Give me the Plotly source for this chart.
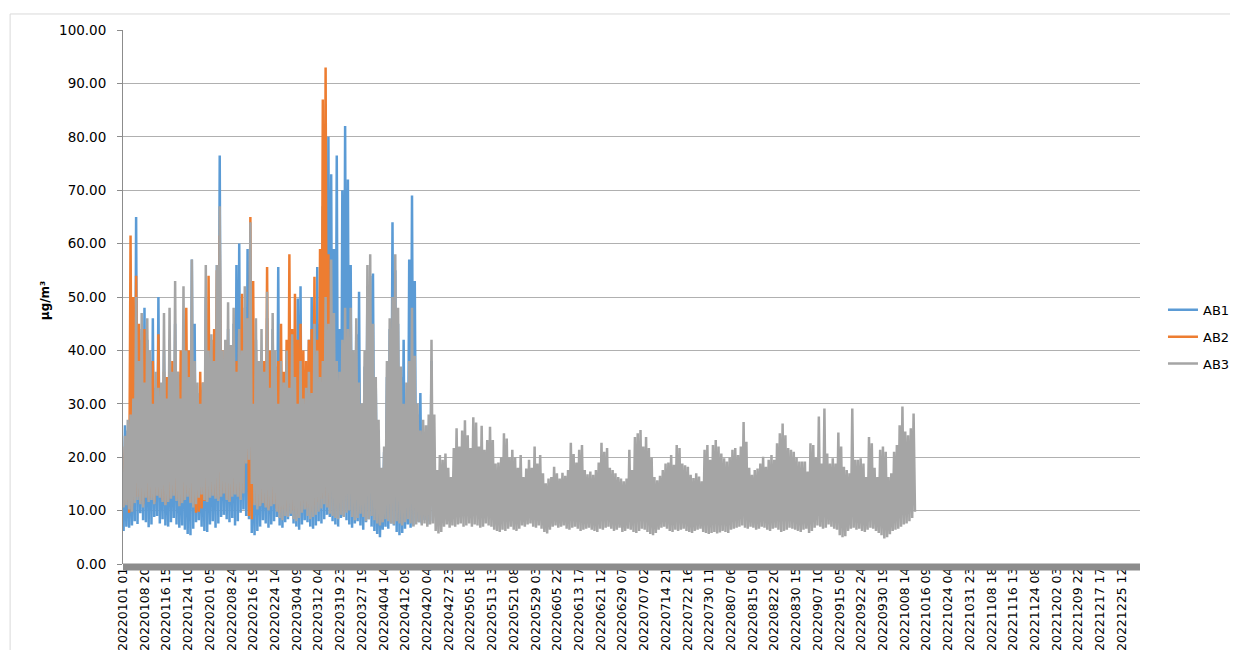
import plotly.graph_objects as go

# hourly category labels shown on the x axis (one every 187 hours)
tick_labels = ["20220101 01", "20220108 20", "20220116 15", "20220124 10", "20220201 05",
               "20220208 24", "20220216 19", "20220224 14", "20220304 09", "20220312 04",
               "20220319 23", "20220327 19", "20220404 14", "20220412 09", "20220420 04",
               "20220427 23", "20220505 18", "20220513 13", "20220521 08", "20220529 03",
               "20220605 22", "20220613 17", "20220621 12", "20220629 07", "20220707 02",
               "20220714 21", "20220722 16", "20220730 11", "20220807 06", "20220815 01",
               "20220822 20", "20220830 15", "20220907 10", "20220915 05", "20220922 24",
               "20220930 19", "20221008 14", "20221016 09", "20221024 04", "20221031 23",
               "20221108 18", "20221116 13", "20221124 08", "20221202 03", "20221209 22",
               "20221217 17", "20221225 12"]
tick_step = 187
n_hours = 8760

# daily highs / lows (ug/m3)
ab1_high = [26, 25, 27, 29, 65, 36, 44, 48, 42, 38,
            46, 33, 50, 31, 40, 29, 42, 33, 45, 34,
            29, 44, 37, 33, 57, 45, 32, 28, 31, 50,
            36, 40, 35, 56, 76.5, 38, 39, 44, 38, 45,
            56, 60, 37, 48, 59, 55, 28, 42, 35, 40,
            33, 46, 31, 44, 37, 55.6, 35, 32, 38, 31,
            40, 33, 49.7, 52, 29, 31, 42, 50, 41, 55.6,
            45, 67, 60, 80, 73, 59, 76.5, 44, 70, 82,
            72, 56, 38, 43, 51, 28, 37, 52, 54, 54.4,
            33, 25, 17, 21, 35, 44, 64, 55, 45, 35,
            42, 31, 57, 69, 53, 28, 32, 24, 23, 26, 38]
ab1_low = [6.2, 7.0, 6.8, 7.2, 8.0, 7.5, 9.5, 8.2, 7.8, 6.9,
           7.4, 8.8, 9.0, 7.6, 8.4, 7.2, 7.0, 7.8, 8.6, 7.4,
           6.8, 7.2, 6.4, 5.6, 5.4, 6.6, 7.8, 8.2, 7.0, 6.2,
           6.0, 7.4, 8.0, 6.8, 7.6, 8.8, 9.2, 8.4, 7.8, 8.6,
           7.2, 8.0, 9.6, 10.2, 9.0, 8.4, 5.8, 5.4, 6.2, 7.0,
           8.2, 7.6, 6.8, 7.4, 8.0, 8.8, 7.2, 6.8, 7.8, 8.4,
           9.0, 7.6, 7.0, 6.4, 7.4, 8.2, 7.8, 7.0, 6.6, 7.2,
           8.0, 7.6, 8.4, 9.2, 8.8, 8.0, 7.4, 7.0, 8.6, 9.0,
           8.2, 7.4, 6.8, 7.6, 8.0, 7.2, 6.4, 7.8, 8.4, 7.0,
           6.2, 5.6, 5.0, 6.4, 7.0, 6.6, 7.6, 7.2, 6.0, 5.4,
           5.8, 6.6, 7.4, 6.8, 7.2, 8.0, 7.8, 7.6, 8.2, 7.4, 8.0]

ab2_high = [22, 24, 61.5, 50, 54, 45, 42, 44, 40, 35,
            38, 30, 43, 32, 36, 35, 30, 38, 33, 36,
            40, 35, 48, 40, 38, 32, 30, 36, 34, 40,
            54, 42, 44, 55, 61.5, 40, 38, 35, 36, 34,
            38, 44, 50.6, 40, 46, 65, 53, 40, 35, 33,
            38, 55.6, 40, 34, 36, 38, 45, 36, 42, 58,
            44, 50.6, 42, 45, 40, 38, 42, 44, 53.8, 42,
            59, 87, 93, 58, 40]
ab2_low = [11.0, 11.6, 9.6, 10.8, 12.0, 12.6, 11.8, 11.2, 12.8, 12.0,
           12.4, 11.6, 13.4, 12.8, 12.0, 11.2, 12.0, 12.6, 13.4, 12.2,
           11.2, 11.8, 12.4, 13.2, 11.6, 10.8, 9.6, 9.8, 10.4, 11.8,
           12.0, 12.8, 13.4, 12.6, 12.2, 13.0, 13.8, 12.4, 11.8, 13.2,
           13.6, 13.0, 12.2, 13.8, 19.2, 9.0, 8.4, 11.4, 10.8, 11.2,
           11.8, 11.0, 10.4, 11.2, 11.6, 10.4, 9.6, 10.2, 9.8, 10.6,
           11.2, 10.0, 9.4, 10.2, 10.8, 11.4, 10.6, 9.8, 10.4, 11.0,
           11.6, 12.2, 12.8, 11.4, 10.6]

ab3_high = [24, 27, 28, 31, 50, 38, 47, 34, 46, 40,
            30, 36, 33, 34, 47, 31, 48, 36, 53, 36,
            31, 52, 40, 35, 57, 38, 34, 30, 34, 56,
            40, 43, 38, 56, 67, 40, 42, 49, 41, 48,
            36, 44, 40, 52, 46, 64, 30, 46, 38, 44,
            36, 51, 33, 47, 40, 30, 38, 34, 40, 33,
            43, 35, 30, 38, 31, 33, 36, 32, 45, 40,
            35, 38, 50, 45, 57, 47, 38, 36, 42, 48,
            44, 48, 40, 46, 34, 30, 40, 56, 58, 45,
            35, 27, 18, 22, 38, 46, 50, 58, 48, 37,
            30, 34, 38, 48, 39, 30, 25, 27, 26, 28, 42,
            28, 17.6, 20.4, 19.5, 20.7, 18, 16.3, 21.7, 25.4,
            22, 25, 26.9, 24.1, 21.7, 27.5, 26.5, 22, 25.9, 21.4,
            23.2, 25.7, 23.2, 18.8, 19, 20, 24.5, 23.5, 20, 21.4,
            20, 18, 20.4, 16.3, 17.9, 19.5, 18, 22, 18.8, 20.4,
            17, 15.1, 16, 16.3, 18.2, 17, 16, 17.1, 16.5, 17.6,
            22.7, 20.6, 19, 21.4, 22.3, 17.6, 16.8, 17.3, 16.7, 17.6,
            19, 22.7, 21, 21.7, 18, 17.6, 17, 16.3, 16, 15.5,
            16, 21.4, 17.6, 23.8, 24.5, 25.1, 22, 23.8, 21.7, 20,
            16.3, 15.7, 16.5, 17.6, 18.8, 19, 20.4, 18.6, 22.3, 21.7,
            18.8, 18.5, 18.2, 16.7, 16.1, 17, 16.4, 15.5, 21.4, 22.3,
            19.5, 22.3, 23.2, 22, 20.7, 19.8, 19.2, 20, 21.4, 21.7,
            20.4, 22, 26.6, 22.9, 18, 16.7, 17.6, 17.9, 18.8, 20.1,
            18.2, 19.5, 20.4, 19.5, 22.6, 24.5, 26.3, 24.1, 21.7, 21.4,
            21, 20, 19.2, 19.2, 19.2, 17.3, 22.6, 22.3, 20, 27.6,
            18.8, 29.1, 20.7, 18.8, 19.8, 18.8, 24.6, 22, 18.2, 17.6,
            17, 29.1, 19.5, 19.5, 19.8, 18.8, 16.3, 23.8, 22.6, 18,
            16.3, 21.4, 22, 21, 16.3, 17, 21, 22.3, 26, 29.5,
            24.8, 24.1, 25.4, 28.2]
ab3_low = [10.6, 11.0, 10.2, 9.8, 11.4, 12.0, 11.2, 10.6, 12.4, 11.6,
           12.0, 11.2, 12.8, 12.4, 11.6, 11.0, 11.6, 12.2, 12.8, 11.8,
           10.8, 11.4, 12.0, 12.6, 11.4, 10.6, 11.2, 12.4, 13.0, 12.0,
           11.6, 12.4, 12.8, 12.2, 11.8, 12.6, 13.2, 12.0, 11.6, 12.6,
           13.0, 12.6, 12.0, 13.2, 18.8, 19.5, 15.0, 11.0, 10.2, 10.8,
           11.4, 10.6, 10.0, 10.8, 11.2, 9.8, 8.6, 8.2, 9.0, 8.8,
           9.4, 8.4, 8.0, 8.6, 9.6, 10.2, 9.0, 8.4, 8.8, 9.2,
           9.8, 10.4, 11.2, 10.6, 9.4, 9.0, 8.6, 8.4, 9.2, 8.8,
           9.6, 10.0, 8.8, 8.2, 8.6, 9.4, 8.8, 8.0, 8.4, 9.0,
           8.2, 7.6, 7.2, 7.8, 8.4, 8.0, 7.6, 7.4, 8.0, 7.6,
           7.2, 7.8, 8.4, 7.6, 7.0, 7.4, 7.8, 7.2, 7.6, 7.0, 7.4,
           7.6, 6.2, 5.7, 6.0, 7.0, 7.4, 6.8, 7.2, 7.0,
           7.4, 7.6, 7.0, 7.2, 7.6, 7.0, 7.4, 7.2, 6.8, 7.0,
           7.6, 7.2, 7.0, 6.4, 6.2, 6.0, 6.4, 6.2, 6.6, 7.0,
           6.4, 6.2, 6.6, 7.2, 7.0, 7.4, 7.6, 7.0, 6.8, 7.2,
           6.6, 6.0, 5.7, 6.4, 7.0, 7.2, 6.8, 7.0, 7.2, 6.6,
           6.4, 6.8, 7.0, 6.6, 6.2, 6.4, 6.6, 6.8, 6.4, 6.2,
           6.0, 6.6, 6.4, 6.8, 7.0, 6.6, 6.2, 6.4, 6.8, 6.0,
           6.2, 6.6, 6.4, 6.0, 5.8, 6.2, 6.6, 6.4, 6.0, 5.6,
           5.4, 5.8, 6.4, 6.8, 7.0, 6.6, 6.2, 6.0, 6.4, 6.2,
           6.4, 6.6, 6.2, 6.0, 5.8, 6.2, 6.4, 6.6, 6.0, 5.8,
           5.6, 5.8, 6.0, 5.7, 5.9, 6.2, 6.0, 5.8, 6.4, 6.6,
           6.8, 7.0, 7.2, 6.8, 6.6, 7.0, 6.8, 6.4, 6.6, 7.0,
           6.8, 6.4, 6.2, 6.6, 6.8, 6.4, 6.0, 6.2, 6.4, 6.8,
           6.6, 6.4, 6.2, 6.0, 6.4, 6.6, 5.8, 6.2, 6.8, 7.2,
           7.0, 6.6, 6.8, 7.4, 7.0, 6.6, 6.4, 5.4, 5.0, 5.2,
           6.2, 6.6, 6.8, 6.4, 6.6, 6.2, 6.0, 6.4, 6.8, 6.6,
           6.2, 5.8, 5.4, 4.8, 5.0, 5.6, 6.2, 6.4, 6.6, 7.0,
           7.4, 7.6, 8.0, 8.6, 9.8]

series = [("AB1", ab1_high, ab1_low, "#5B9BD5"),
          ("AB2", ab2_high, ab2_low, "#ED7D31"),
          ("AB3", ab3_high, ab3_low, "#A5A5A5")]


def daily_trace(highs, lows):
    # morning low, evening high for each day (hour index on the category axis)
    xs, ys = [], []
    for d, hi in enumerate(highs):
        xs += [24 * d + 5, 24 * d + 17]
        ys += [lows[d], hi]
    if len(lows) > len(highs):
        xs.append(24 * len(highs) + 5)
        ys.append(lows[-1])
    return xs, ys


fig = go.Figure()
for name, hi, lo, col in series:
    xs, ys = daily_trace(hi, lo)
    fig.add_trace(go.Scatter(x=xs, y=ys, mode="lines", name=name, legendgroup=name,
                             line=dict(color=col, width=2.5)))

# page body has an 8px margin, so the figure is 8px smaller than the window
fig.update_layout(
    width=1230, height=642,
    margin=dict(l=115, r=98, t=22, b=86, autoexpand=False),
    paper_bgcolor="white", plot_bgcolor="white",
    font=dict(family="DejaVu Sans", size=13, color="#000000"),
    showlegend=True,
    legend=dict(x=1.0226, y=0.504, xanchor="left", yanchor="top",
                traceorder="grouped", tracegroupgap=7,
                font=dict(family="DejaVu Sans", size=13)),
    hovermode=False,
)
fig.update_xaxes(range=[0, n_hours - 1], tickmode="array", automargin=False,
                 tickvals=[tick_step * k for k in range(len(tick_labels))],
                 ticktext=tick_labels, tickangle=-90, showgrid=False,
                 zeroline=False, showline=False, ticks="",
                 tickfont=dict(family="DejaVu Sans", size=12.5))
fig.update_yaxes(range=[0, 100], dtick=10, tickformat=".2f", showgrid=True, automargin=False,
                 gridcolor="#B0B0B0", gridwidth=1, zeroline=False,
                 showline=True, linecolor="#8C8C8C", linewidth=1,
                 ticks="outside", ticklen=5, tickcolor="#8C8C8C",
                 ticklabelstandoff=8, tickfont=dict(family="DejaVu Sans", size=13.5))

# thick grey category axis along y = 0
fig.add_shape(type="rect", xref="paper", yref="paper", x0=0, x1=1, y0=-0.012, y1=0.001,
              fillcolor="#8C8C8C", line=dict(width=0))
# outer chart border
fig.add_shape(type="rect", xref="paper", yref="paper", x0=-0.111, x1=1.11, y0=-0.2, y1=1.03,
              fillcolor="rgba(0,0,0,0)", line=dict(color="#D9D9D9", width=1))
fig.add_annotation(text="<b>μg/m³</b>", xref="paper", yref="paper", x=-0.0767, y=0.494,
                   xanchor="center", yanchor="middle",
                   textangle=-90, showarrow=False, font=dict(family="DejaVu Sans", size=12))

fig.write_html("out.html", config={"displayModeBar": False})
